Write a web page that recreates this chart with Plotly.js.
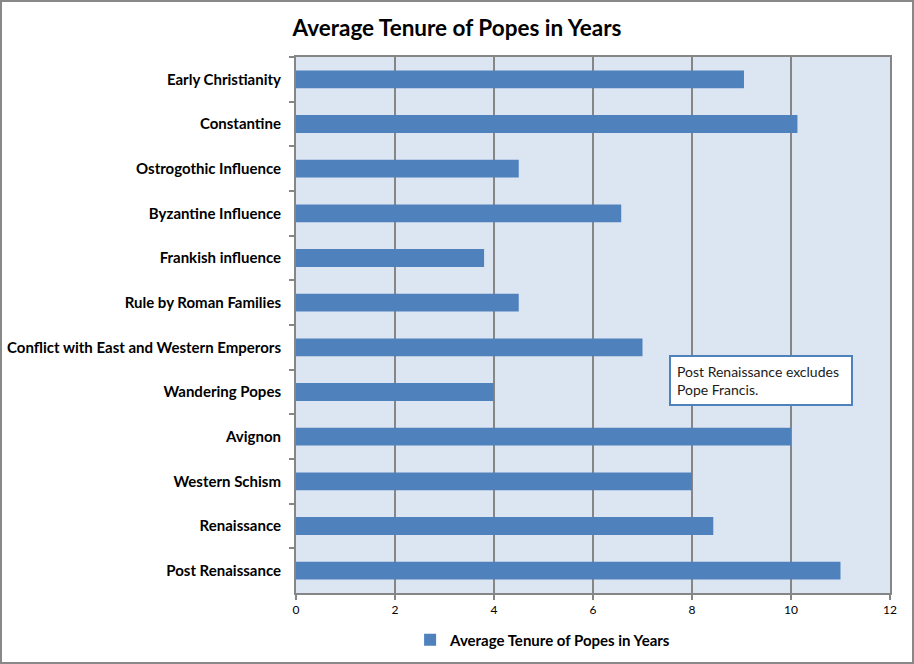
<!DOCTYPE html>
<html>
<head>
<meta charset="utf-8">
<script src="https://cdn.plot.ly/plotly-3.0.1.min.js"></script>
<style>
html,body{margin:0;padding:0;background:#fff;}
#wrap{position:relative;width:914px;height:664px;}
#chart{width:914px;height:664px;}
#frame{position:absolute;left:0;top:0;width:910px;height:660px;border:2px solid #888;pointer-events:none;}
</style>
</head>
<body>
<div id="wrap"><div id="chart"></div><div id="frame"></div></div>
<script>
var categories = [
  "Early Christianity",
  "Constantine",
  "Ostrogothic Influence",
  "Byzantine Influence",
  "Frankish influence",
  "Rule by Roman Families",
  "Conflict with East and Western Emperors",
  "Wandering Popes",
  "Avignon",
  "Western Schism",
  "Renaissance",
  "Post Renaissance"
];
var tenure = [9.05, 10.13, 4.5, 6.57, 3.8, 4.5, 7.0, 3.99, 10.0, 8.0, 8.43, 11.0];
var xTicks = [0, 2, 4, 6, 8, 10, 12];
var seriesName = "Average Tenure of Popes in Years";
var noteText = "Post Renaissance excludes<br>Pope Francis.";

var fontFam = "Lato, 'Open Sans', sans-serif";

var trace = {
  type: "bar",
  orientation: "h",
  y: categories,
  x: tenure,
  name: seriesName,
  marker: {color: "#4F81BD"},
  showlegend: true,
  hoverinfo: "x+y"
};

var layout = {
  width: 914,
  height: 664,
  margin: {l: 296, r: 24, t: 57, b: 71, autoexpand: false},
  paper_bgcolor: "#ffffff",
  plot_bgcolor: "#DCE6F2",
  bargap: 0.6,
  font: {family: fontFam, color: "#000"},
  title: {
    text: "<b>Average Tenure of Popes in Years</b>",
    font: {family: fontFam, size: 22.5, color: "#000"},
    x: 0.5, xanchor: "center", y: 0.958, yanchor: "middle"
  },
  xaxis: {
    range: [0, 12],
    tickvals: xTicks,
    ticktext: xTicks.map(String),
    showgrid: true,
    gridcolor: "#868686",
    gridwidth: 2,
    zeroline: false,
    showline: true,
    linecolor: "#868686",
    linewidth: 2,
    mirror: true,
    ticks: "outside",
    ticklen: 5,
    tickcolor: "#868686",
    tickwidth: 2,
    tickfont: {family: fontFam, size: 12, color: "#000"},
    automargin: false,
    fixedrange: true
  },
  yaxis: {
    type: "category",
    autorange: "reversed",
    tickson: "boundaries",
    ticks: "outside",
    ticklen: 5,
    tickcolor: "#868686",
    tickwidth: 2,
    showgrid: false,
    showline: true,
    linecolor: "#868686",
    linewidth: 2,
    mirror: true,
    tickfont: {family: fontFam, size: 15, color: "#000", weight: "bold"},
    ticklabelstandoff: 10,
    automargin: false,
    fixedrange: true
  },
  legend: {
    orientation: "h",
    xref: "paper", yref: "container",
    x: 0.416, xanchor: "center",
    y: 24 / 664, yanchor: "middle",
    font: {family: fontFam, size: 15, color: "#000", weight: "bold"},
    bgcolor: "rgba(0,0,0,0)",
    itemwidth: 30
  },
  annotations: [{
    xref: "paper", yref: "paper",
    x: (669 - 296) / 594, y: (593 - 355) / 536,
    xanchor: "left", yanchor: "top",
    text: noteText,
    showarrow: false,
    align: "left",
    font: {family: fontFam, size: 14, color: "#1a1a1a"},
    bgcolor: "#ffffff",
    bordercolor: "#4F81BD",
    borderwidth: 2,
    borderpad: 6,
    width: 168
  }]
};

Plotly.newPlot("chart", [trace], layout, {displayModeBar: false, staticPlot: true});
</script>
</body>
</html>
